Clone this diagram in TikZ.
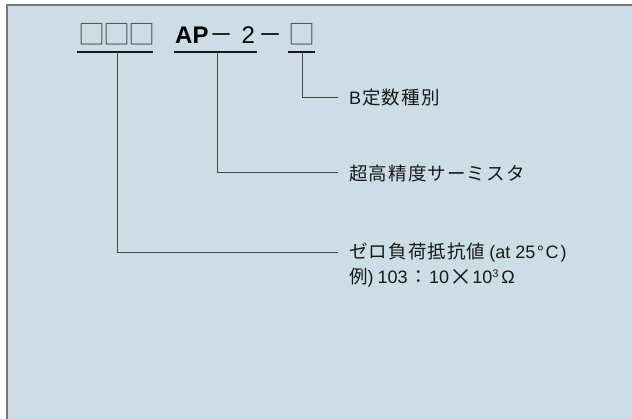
\documentclass[tikz,border=0pt]{standalone}
\usepackage{fontspec}
\newfontfamily\jpfont[LetterSpace=6]{Noto Sans CJK JP}
\newfontfamily\boxfont{Noto Sans CJK JP}
\newfontfamily\codefont{Liberation Sans}
\newcommand\lat[1]{{\codefont\fontsize{18}{20}\selectfont #1}}
\usetikzlibrary{positioning}
\definecolor{panel}{RGB}{204,221,229}
\definecolor{framegray}{RGB}{120,120,120}
\definecolor{leadgray}{RGB}{70,70,70}
\definecolor{boxgray}{RGB}{80,80,80}

\begin{document}
\begin{tikzpicture}[
    x=1pt, y=-1pt,
    frame/.style={draw=framegray, line width=1.5pt},
    uline/.style={draw=black!90, line width=2.4pt},
    lead/.style={draw=leadgray, line width=1pt},
    blank/.style={font=\boxfont\fontsize{27}{27}\selectfont, text=boxgray, inner sep=0pt},
    code/.style={font=\codefont\fontsize{24}{24}\selectfont, inner sep=0pt, anchor=west},
    desc/.style={font=\jpfont\fontsize{18.5}{20}\selectfont, text=black!90, anchor=west, inner xsep=11pt, inner ysep=0pt}
]
\useasboundingbox (0,0) rectangle (632,419);

% Panel
\fill[panel] (7,5) rectangle (632,419);
\draw[frame] (7,419) -- (7,5) -- (632,5);

% Part number
\node[blank] (series) at (117,34) {□\kern-2pt□\kern-2pt□};
\node[code] (type) at (175,35) {\textbf{AP}\kern1pt{\boxfont －}\kern8pt 2\kern4pt{\boxfont －}};
\node[blank] (bclass) at (302,34) {□};

% Underlines
\coordinate (seriesbar) at (117,52);
\coordinate (typebar) at (217,52);
\coordinate (bclassbar) at (302,52);
\draw[uline] (77,52) -- (153,52);
\draw[uline] (174,52) -- (257,52);
\draw[uline] (288,52) -- (315,52);

% Descriptions
\node[desc] (bconst) at (338,98) {\lat{B}\kern1pt 定数種別};
\node[desc] (precise) at (338,173) {超高精度サーミスタ};
\node[desc] (zero) at (338,253) {ゼロ負荷抵抗値\lat{\kern4pt(at 25\kern1.5pt°\kern1.5pt C\kern2pt)}};
\node[desc] (zeroex) at (338,278) {例\lat{)\kern4pt 103}\kern2pt：\kern1pt\lat{10}\raisebox{-1.5pt}{\fontsize{23}{20}\selectfont ×}\lat{10\raisebox{0.7ex}{\fontsize{11}{11}\selectfont 3}\kern3pt Ω}};

% Leaders
\draw[lead] (bclassbar) |- (bconst.west);
\draw[lead] (typebar) |- (precise.west);
\draw[lead] (seriesbar) |- (zero.west);
\end{tikzpicture}
\end{document}
